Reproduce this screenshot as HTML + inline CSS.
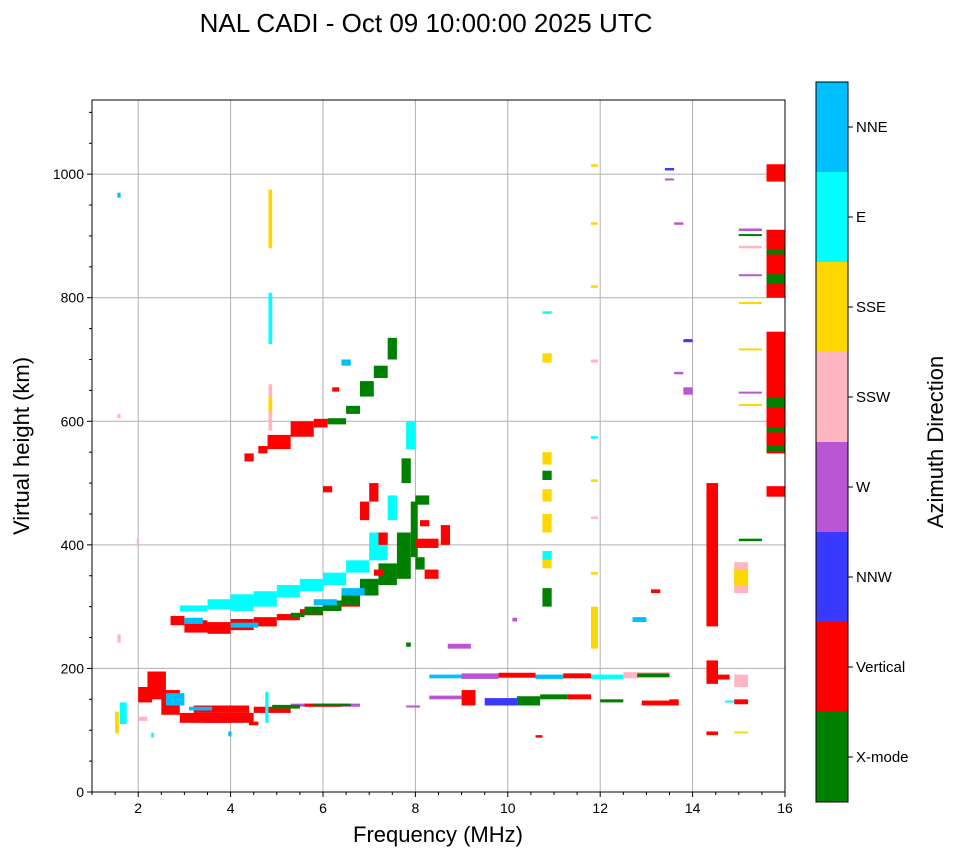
<!DOCTYPE html>
<html><head><meta charset="utf-8">
<style>
html,body{margin:0;padding:0;background:#fff;}
body{width:958px;height:857px;overflow:hidden;font-family:"Liberation Sans",sans-serif;}
</style></head>
<body>
<svg id="chart" width="958" height="857" xmlns="http://www.w3.org/2000/svg">
<text x="426" y="32" font-size="26" text-anchor="middle">NAL CADI - Oct 09 10:00:00 2025 UTC</text>
<g id="grid"></g>
<g id="marks"></g>
<rect x="92" y="100" width="693" height="692" fill="none" stroke="#000" stroke-width="1"/>
<g id="axes"></g>
<text x="438" y="842" font-size="22" text-anchor="middle">Frequency (MHz)</text>
<text transform="translate(29,446) rotate(-90)" font-size="22" text-anchor="middle">Virtual height (km)</text>
<g id="cbar"></g>
<text transform="translate(943,442) rotate(-90)" font-size="22" text-anchor="middle">Azimuth Direction</text>
</svg>
<script>
const colorNames = ["X-mode","Vertical","NNW","W","SSW","SSE","E","NNE"];
const colorVals = ["#008000","#ff0000","#3a3aff","#ba55d3","#ffb6c1","#ffd700","#00ffff","#00bfff"];
const xTicks = [2,4,6,8,10,12,14,16];
const yTicks = [0,200,400,600,800,1000];
// segments: [f0, f1, h0, h1, colorIndex]
const eRegion = [
[2.9,4.5,112,128,1],[3.2,4.4,128,140,1],[4.5,5.3,128,138,1],[5.3,6.8,138,143,3],[5.6,6.4,138,143,1],
[4.75,4.82,112,162,6],[2.2,2.6,150,195,1],[2.0,2.3,145,170,1],[2.5,2.9,125,165,1],[1.5,1.58,95,130,5],
[1.6,1.75,110,145,6],[2.6,3.0,140,160,7],[3.1,3.6,132,138,7],[4.9,5.5,135,141,0],[5.8,6.6,139,143,0],
[7.8,8.1,137,140,3],[3.95,4.02,90,98,7],[2.28,2.34,88,96,6],[3.4,4.0,112,117,1],[4.4,4.6,108,114,1],[2.0,2.2,115,122,4]
];
const fRegion = [
[2.7,3.0,270,285,1],[3.0,3.5,258,278,1],[3.5,4.0,256,275,1],[4.0,4.5,262,280,1],[4.5,5.0,268,283,1],
[5.0,5.5,278,288,1],[5.5,6.0,286,296,1],[6.0,6.4,294,304,1],[6.4,6.8,300,312,1],
[5.3,5.6,283,290,0],[5.6,6.0,287,300,0],[6.0,6.4,293,310,0],[6.4,6.8,303,325,0],[6.8,7.2,318,345,0],
[7.2,7.6,335,370,0],[7.6,7.9,345,420,0],[7.9,8.05,380,470,0],
[2.9,3.5,292,302,6],[3.5,4.0,296,312,6],[4.0,4.5,293,320,6],[4.5,5.0,300,325,6],[5.0,5.5,315,335,6],
[5.5,6.0,325,345,6],[6.0,6.5,335,355,6],[6.5,7.0,355,375,6],[7.0,7.4,375,420,6],[7.4,7.6,440,480,6],
[3.0,3.4,272,282,7],[4.0,4.6,266,274,7],[5.8,6.3,302,312,7],[6.4,6.9,318,330,7],
[6.8,7.0,440,470,1],[7.0,7.2,470,500,1],[6.0,6.2,485,495,1],[7.2,7.4,400,420,1],[7.1,7.3,350,360,1]
];
const upper = [
[4.3,4.5,535,548,1],[4.6,4.8,548,560,1],[4.8,5.3,555,578,1],[5.3,5.8,575,600,1],[5.8,6.1,590,604,1],
[6.1,6.5,595,605,0],[6.5,6.8,612,625,0],[6.8,7.1,640,665,0],[7.1,7.4,670,690,0],[7.4,7.6,700,735,0],
[6.4,6.6,690,700,7],[6.2,6.35,648,655,1],[7.8,8.0,555,600,6],[8.0,8.3,465,480,0],[8.1,8.3,430,440,1],
[8.55,8.75,400,432,1],[8.0,8.5,395,410,1],[8.2,8.5,345,360,1],[8.0,8.2,360,380,0],[7.7,7.9,500,540,0],
[4.82,4.9,880,975,5],[4.82,4.9,725,808,6],[4.82,4.9,585,660,4],[4.82,4.9,615,640,5],
[1.55,1.62,962,970,7],[1.55,1.62,605,612,4],[1.55,1.62,242,255,4],[1.97,2.02,398,410,4]
];
const f1Band = [
[8.3,9.2,184,190,7],[9.0,9.8,183,192,3],[9.8,10.6,185,193,1],[10.6,11.2,183,190,7],[11.2,11.8,184,192,1],
[11.8,12.5,183,190,6],[12.5,13.5,184,194,4],[12.8,13.5,186,192,0],[8.3,9.0,150,156,3],[9.0,9.3,140,165,1],
[9.5,10.2,140,152,2],[10.2,10.7,140,155,0],[10.7,11.3,150,158,0],[11.3,11.8,150,158,1],[12.0,12.5,145,150,0],
[12.9,13.5,140,148,1],[13.5,13.7,140,150,1],[8.7,9.2,232,240,3],[7.8,7.9,235,242,0],[10.1,10.2,276,282,3],
[12.7,13.0,275,283,7],[13.1,13.3,322,328,1],[10.6,10.75,88,92,1]
];
const columns = [
[10.75,10.95,300,330,0],[10.75,10.95,362,390,5],[10.75,10.95,376,390,6],[10.75,10.95,420,450,5],
[10.75,10.95,470,490,5],[10.75,10.95,505,520,0],[10.75,10.95,530,550,5],[10.75,10.95,695,710,5],[10.75,10.95,774,778,6],
[11.8,11.95,1012,1016,5],[11.8,11.95,918,922,5],[11.8,11.95,816,820,5],[11.8,11.95,572,576,6],[11.8,11.95,695,700,4],
[11.8,11.95,442,446,4],[11.8,11.95,502,506,5],[11.8,11.95,232,300,5],[11.8,11.95,352,356,5],
[13.4,13.6,1006,1010,2],[13.4,13.6,990,993,3],[13.6,13.8,918,922,3],[13.8,14.0,728,733,2],[13.8,14.0,643,655,3],[13.6,13.8,676,680,3],
[14.3,14.55,268,500,1],[14.3,14.55,175,213,1],[14.3,14.55,92,98,1],[14.55,14.8,182,190,1],
[14.9,15.2,322,372,4],[14.9,15.2,335,360,5],[14.9,15.2,170,190,4],[14.9,15.2,142,150,1],[14.9,15.2,95,98,5],
[14.7,14.9,145,148,6],[15.0,15.5,406,410,0],
[15.6,16.0,548,745,1],[15.6,16.0,800,910,1],[15.6,16.0,988,1016,1],[15.6,16.0,478,495,1],[15.6,16.0,552,560,0],
[15.6,16.0,582,590,0],[15.6,16.0,622,638,0],[15.6,16.0,822,838,0],[15.6,16.0,870,878,0],
[15.0,15.5,908,912,3],[15.0,15.5,880,884,4],[15.0,15.5,835,838,3],[15.0,15.5,790,793,5],[15.0,15.5,715,718,5],
[15.0,15.5,645,648,3],[15.0,15.5,625,628,5],[15.0,15.5,900,903,0]
];
const NS="http://www.w3.org/2000/svg";
const X0=92,X1=785,Y0=792,Y1=100,FMIN=1,FMAX=16,HMAX=1120;
function xs(f){return X0+(f-FMIN)/(FMAX-FMIN)*(X1-X0);}
function ys(h){return Y0-h/HMAX*(Y0-Y1);}
function mk(tag,attrs,parent){const e=document.createElementNS(NS,tag);for(const k in attrs)e.setAttribute(k,attrs[k]);parent.appendChild(e);return e;}
const grid=document.getElementById('grid'),axes=document.getElementById('axes'),marks=document.getElementById('marks'),cbar=document.getElementById('cbar');
xTicks.forEach(t=>{
  const x=xs(t);
  const g=mk('line',{x1:x,x2:x,y1:Y1,y2:Y0,stroke:'#b0b0b0','stroke-width':1},grid);
  
  
  mk('line',{x1:x,x2:x,y1:Y0,y2:Y0+5,stroke:'#000'},axes);
  const tx=mk('text',{x:x,y:Y0+21,'font-size':14,'text-anchor':'middle'},axes);
  tx.textContent=t;
  
  
});
for(let f=1;f<=16;f+=0.5){if(xTicks.includes(f))continue;const x=xs(f);mk('line',{x1:x,x2:x,y1:Y0,y2:Y0+3,stroke:'#000'},axes);}
yTicks.forEach(t=>{
  const y=ys(t);
  const g=mk('line',{x1:X0,x2:X1,y1:y,y2:y,stroke:'#b0b0b0','stroke-width':1},grid);
  
  
  mk('line',{x1:X0-5,x2:X0,y1:y,y2:y,stroke:'#000'},axes);
  const tx=mk('text',{x:X0-8,y:y+5,'font-size':14,'text-anchor':'end'},axes);
  tx.textContent=t;
  
  
});
for(let h=50;h<=1100;h+=50){if(yTicks.includes(h))continue;const y=ys(h);mk('line',{x1:X0-3,x2:X0,y1:y,y2:y,stroke:'#000'},axes);}
[eRegion,fRegion,upper,f1Band,columns].forEach(arr=>arr.forEach(s=>{
  const x=xs(s[0]),w=Math.max(2,xs(s[1])-x),y=ys(s[3]),h=Math.max(2,ys(s[2])-y);
  const r=mk('rect',{x:x,y:y,width:w,height:h,fill:colorVals[s[4]]},marks);
  
  
}));
const CB0=802,CBH=90;
colorNames.forEach((n,i)=>{
  const y=CB0-(i+1)*CBH;
  const r=mk('rect',{x:816,y:y,width:32,height:CBH,fill:colorVals[i]},cbar);
  
  
  mk('line',{x1:848,x2:853,y1:y+CBH/2,y2:y+CBH/2,stroke:'#000'},cbar);
  const t=mk('text',{x:856,y:y+CBH/2+5,'font-size':15},cbar);
  t.textContent=n;
  
  
});
mk('rect',{x:816,y:82,width:32,height:720,fill:'none',stroke:'#000'},cbar);
</script>
</body></html>
